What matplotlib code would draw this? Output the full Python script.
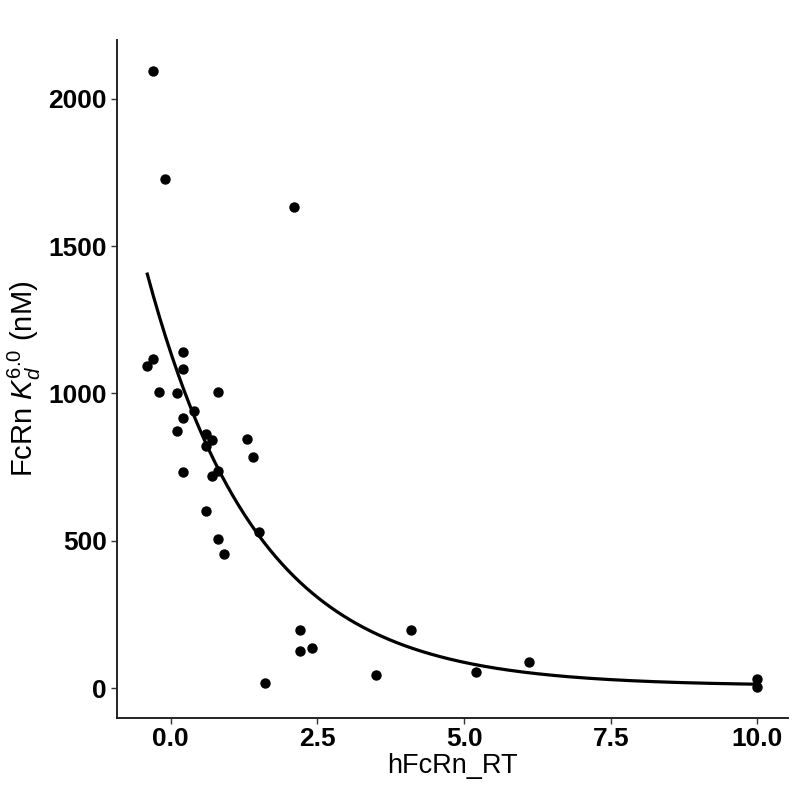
import numpy as np
import matplotlib.pyplot as plt

plt.rcParams['font.family'] = ['Liberation Sans', 'DejaVu Sans']
plt.rcParams['mathtext.fontset'] = 'custom'
plt.rcParams['mathtext.rm'] = 'Liberation Sans'
plt.rcParams['mathtext.it'] = 'Liberation Sans:italic'

# measured points
hfcrn_rt = [-0.3, -0.1, 2.1, -0.3, -0.4, 0.2, 0.2, -0.2, 0.1, 0.8, 0.4, 0.2, 0.1,
            0.6, 0.7, 0.6, 0.2, 0.7, 0.8, 0.6, 0.8, 0.9, 1.3, 1.4, 1.5,
            1.6, 2.2, 2.2, 2.4, 3.5, 4.1, 5.2, 6.1, 10.0, 10.0]
kd60 = [2094, 1726, 1634, 1116, 1092, 1139, 1083, 1005, 1001, 1005, 941, 917, 873,
        861, 842, 821, 734, 720, 738, 602, 507, 454, 846, 783, 530,
        19, 199, 127, 136, 45, 199, 54, 90, 31, 3]

# exponential decay fit (parameters)
fit_a = 1130
fit_b = 0.53
fit_c = 8

x = np.array(hfcrn_rt)
y = np.array(kd60)
xs = np.linspace(x.min(), x.max(), 300)
ys = fit_a * np.exp(-fit_b * xs) + fit_c

fig = plt.figure(figsize=(8, 7.95), dpi=100)
ax = fig.add_axes([0.146, 0.0972, 0.839, 0.8525])

ax.scatter(x, y, s=42, color='black', zorder=3)
ax.plot(xs, ys, color='black', lw=2.3)

ax.set_xlim(-0.92, 10.52)
ax.set_ylim(-100, 2199)
ax.set_xticks([0, 2.5, 5, 7.5, 10])
ax.set_xticklabels(['0.0', '2.5', '5.0', '7.5', '10.0'])
ax.set_yticks([0, 500, 1000, 1500, 2000])

for s in ['top', 'right']:
    ax.spines[s].set_visible(False)
for s in ['left', 'bottom']:
    ax.spines[s].set_color('#222222')
    ax.spines[s].set_linewidth(1.4)

ax.tick_params(length=4, width=1, color='#333333', pad=3, labelsize=19)
for lab in ax.get_xticklabels() + ax.get_yticklabels():
    lab.set_fontweight('bold')
    lab.set_color('black')

ax.set_xlabel('hFcRn_RT', fontsize=19.5, labelpad=1)
ax.set_ylabel(r'FcRn $K_{d}^{\mathit{6.0}}$ (nM)', fontsize=21, labelpad=4)

fig.savefig('out.png', dpi=100)
